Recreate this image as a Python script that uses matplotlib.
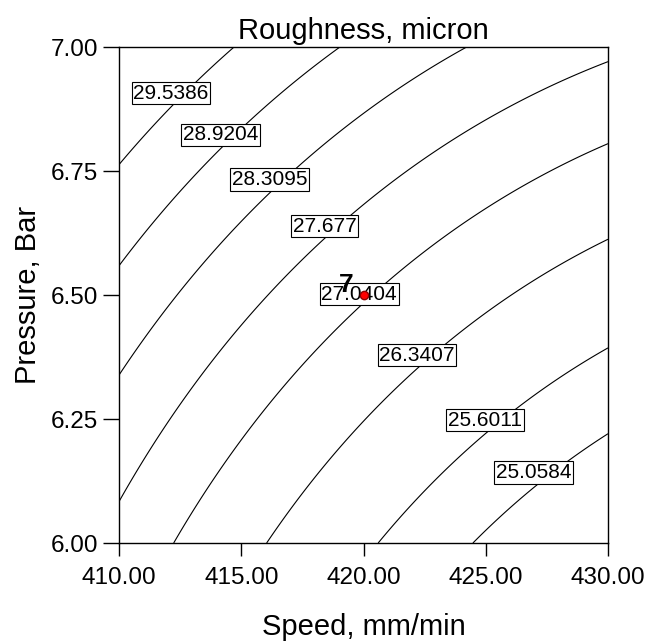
import numpy as np
import matplotlib.pyplot as plt

plt.rcParams['font.family'] = ['Liberation Sans', 'DejaVu Sans']

# contour levels of the roughness response (micron)
levels = [25.0584, 25.6011, 26.3407, 27.0404, 27.677, 28.3095, 28.9204, 29.5386]

# points lying on each contour: speed (mm/min) and pressure (bar)
pts_level = [29.5386] * 3 + [28.9204] * 3 + [28.3095] * 3 + [27.677] * 3 \
    + [27.0404] * 3 + [26.3407] * 3 + [25.6011] * 3 + [25.0584] * 3
pts_speed = [410.00, 412.70, 414.66,
             410.00, 414.70, 419.04,
             410.00, 416.87, 424.19,
             410.00, 419.04, 430.00,
             412.21, 420.14, 430.00,
             416.05, 422.92, 430.00,
             420.63, 425.62, 430.00,
             424.52, 427.75, 430.00]
pts_pressure = [6.763, 6.907, 7.000,
                6.558, 6.823, 7.000,
                6.337, 6.734, 7.000,
                6.085, 6.639, 6.970,
                6.000, 6.500, 6.804,
                6.000, 6.379, 6.613,
                6.000, 6.248, 6.393,
                6.000, 6.143, 6.222]

# design point (run 7)
run_speed = [420.0]
run_pressure = [6.5]
run_label = ['7']

xticks = [410, 415, 420, 425, 430]
yticks = [6.00, 6.25, 6.50, 6.75, 7.00]


def coded(s, p):
    return (np.asarray(s) - 420.0) / 10.0, (np.asarray(p) - 6.5) / 0.5


def terms(a, b):
    return np.stack([np.ones_like(a), a, b, a * b, a * a, b * b], axis=-1)


# quadratic response surface through the contour points
a, b = coded(pts_speed, pts_pressure)
coef, *_ = np.linalg.lstsq(terms(a, b), np.array(pts_level), rcond=None)

S, P = np.meshgrid(np.linspace(410, 430, 300), np.linspace(6.0, 7.0, 300))
ga, gb = coded(S, P)
R = terms(ga, gb) @ coef

fig = plt.figure(figsize=(6.66, 6.43), dpi=100)
ax = fig.add_axes([0.1787, 0.1555, 0.7342, 0.7714])

cs = ax.contour(S, P, R, levels=levels, colors='black', linewidths=0.8)

# where each label sits, top-left line first
label_pos = [(412.13, 6.907), (414.15, 6.823), (416.16, 6.733), (418.40, 6.639),
             (419.82, 6.502), (422.19, 6.379), (424.97, 6.248), (426.97, 6.142)]
cs.clabel(fmt={lv: f'{lv:g}' for lv in levels}, inline=False,
          manual=label_pos, fontsize=15)
for t in cs.labelTexts:
    # snap the text to the nearest requested spot, kept horizontal
    x0, y0 = t.get_position()
    pos = min(label_pos, key=lambda q: (q[0] - x0) ** 2 / 400 + (q[1] - y0) ** 2)
    t.set_position(pos)
    t.set_rotation(0)
    t.set_color('black')
    t.set_zorder(4)
    t.set_bbox(dict(boxstyle='square,pad=0.08', fc='white', ec='black', lw=0.8))

ax.plot(run_speed, run_pressure, 'o', color='red', mec='darkred', ms=6, zorder=6)
for sx, py, lab in zip(run_speed, run_pressure, run_label):
    ax.annotate(lab, (sx, py), xytext=(-7, 2), textcoords='offset points',
                ha='right', va='baseline', fontsize=19, fontweight='bold', zorder=6)

ax.set_xlim(410, 430)
ax.set_ylim(6.0, 7.0)
ax.set_xticks(xticks)
ax.set_yticks(yticks)
ax.set_xticklabels([f'{v:.2f}' for v in xticks])
ax.set_yticklabels([f'{v:.2f}' for v in yticks])
ax.tick_params(axis='x', direction='out', length=9.5, width=1, pad=8, labelsize=17.5)
ax.tick_params(axis='y', direction='out', length=11.5, width=1, pad=3.5, labelsize=17.5)
for sp in ax.spines.values():
    sp.set_linewidth(1)

ax.set_title('Roughness, micron', fontsize=21, pad=6)
ax.set_xlabel('Speed, mm/min', fontsize=21, labelpad=17)
ax.set_ylabel('Pressure, Bar', fontsize=21, labelpad=6)

fig.savefig('out.png', dpi=100)
